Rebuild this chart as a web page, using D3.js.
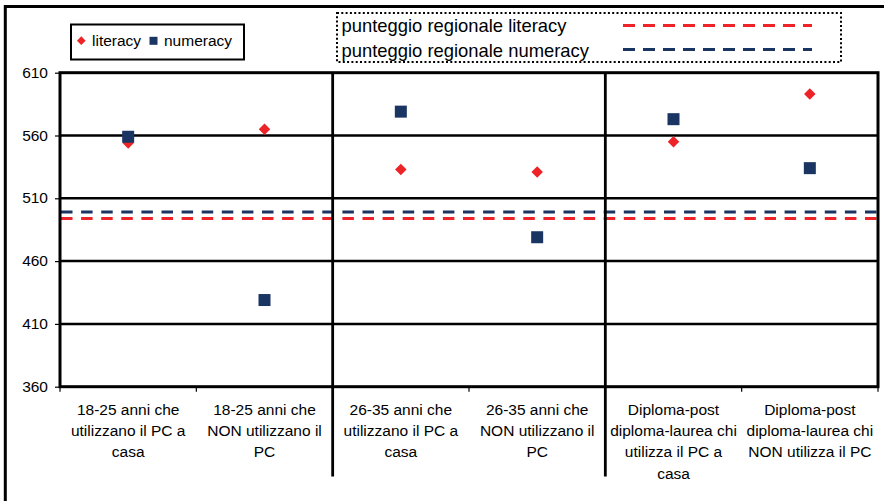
<!DOCTYPE html>
<html>
<head>
<meta charset="utf-8">
<script src="https://cdn.jsdelivr.net/npm/d3@7"></script>
<style>
  html, body { margin: 0; padding: 0; background: #fff; }
  svg { display: block; font-family: Arial, "Liberation Sans", sans-serif; }
</style>
</head>
<body>
<svg id="chart" width="884" height="501"></svg>
<script>
// categories (line breaks as in the original labels)
const categories = [
  '18-25 anni che\nutilizzano il PC a\ncasa',
  '18-25 anni che\nNON utilizzano il\nPC',
  '26-35 anni che\nutilizzano il PC a\ncasa',
  '26-35 anni che\nNON utilizzano il\nPC',
  'Diploma-post\ndiploma-laurea chi\nutilizza il PC a\ncasa',
  'Diploma-post\ndiploma-laurea chi\nNON utilizza il PC'
]
const literacy = [554, 565, 533, 531, 555, 593]
const numeracy = [559, 429, 579, 479, 573, 534]
const regionalLiteracy = 494
const regionalNumeracy = 499
const yTicks = [360, 410, 460, 510, 560, 610]

const red = '#ee2327'
const navy = '#1b3563'

const svg = d3.select('#chart')

const plot = { left: 60, right: 878, top: 72.7, bottom: 386.7 }

const x = d3.scaleBand()
  .domain(d3.range(categories.length))
  .range([plot.left, plot.right])
  .padding(0)

const y = d3.scaleLinear()
  .domain([360, 610])
  .range([plot.bottom, plot.top])

// outer frame
svg.append('rect')
  .attr('x', 5.3).attr('y', 6.5)
  .attr('width', 900).attr('height', 520)
  .attr('fill', 'none')
  .attr('stroke', '#000')
  .attr('stroke-width', 3)

// legend: markers
const leg1 = svg.append('g')
leg1.append('rect')
  .attr('x', 71).attr('y', 24.5)
  .attr('width', 173).attr('height', 35)
  .attr('fill', '#fff')
  .attr('stroke', '#000')
  .attr('stroke-width', 2)
leg1.append('path')
  .attr('d', d3.symbol(d3.symbolDiamond2, 48)())
  .attr('transform', 'translate(81.3,40.7)')
  .attr('fill', red)
leg1.append('text')
  .attr('x', 92).attr('y', 46)
  .attr('font-size', 15.5)
  .text('literacy')
leg1.append('rect')
  .attr('x', 149.5).attr('y', 36.8)
  .attr('width', 8).attr('height', 8)
  .attr('fill', navy)
leg1.append('text')
  .attr('x', 164).attr('y', 46)
  .attr('font-size', 15.5)
  .text('numeracy')

// legend: regional scores
const leg2 = svg.append('g')
leg2.append('rect')
  .attr('x', 337).attr('y', 13)
  .attr('width', 504).attr('height', 49)
  .attr('fill', '#fff')
  .attr('stroke', '#000')
  .attr('stroke-width', 2)
  .attr('stroke-dasharray', '2,2.3')
const leg2Items = [
  { label: 'punteggio regionale literacy', color: red, yText: 31.5, yLine: 25.5 },
  { label: 'punteggio regionale numeracy', color: navy, yText: 56.5, yLine: 49.5 }
]
leg2.selectAll('text')
  .data(leg2Items)
  .join('text')
  .attr('x', 341.5)
  .attr('y', d => d.yText)
  .attr('font-size', 18.4)
  .text(d => d.label)
leg2.selectAll('line')
  .data(leg2Items)
  .join('line')
  .attr('x1', 623).attr('x2', 812)
  .attr('y1', d => d.yLine).attr('y2', d => d.yLine)
  .attr('stroke', d => d.color)
  .attr('stroke-width', 3)
  .attr('stroke-dasharray', '12,8')

// plot background
svg.append('rect')
  .attr('x', plot.left).attr('y', plot.top)
  .attr('width', plot.right - plot.left)
  .attr('height', plot.bottom - plot.top)
  .attr('fill', '#fff')

// horizontal gridlines
svg.append('g')
  .selectAll('line')
  .data(yTicks.slice(1, -1))
  .join('line')
  .attr('x1', plot.left).attr('x2', plot.right)
  .attr('y1', d => y(d)).attr('y2', d => y(d))
  .attr('stroke', '#000')
  .attr('stroke-width', 2.5)

// regional dashed lines
svg.append('g')
  .selectAll('line')
  .data([{ v: regionalNumeracy, c: navy }, { v: regionalLiteracy, c: red }])
  .join('line')
  .attr('x1', plot.left + 1).attr('x2', plot.right)
  .attr('y1', d => y(d.v)).attr('y2', d => y(d.v))
  .attr('stroke', d => d.c)
  .attr('stroke-width', 3)
  .attr('stroke-dasharray', '11.5,8.6')

// group separators (between pairs of categories), extend below axis
const separators = [2, 4].map(i => x(i))
svg.append('g')
  .selectAll('line')
  .data(separators)
  .join('line')
  .attr('x1', d => d).attr('x2', d => d)
  .attr('y1', plot.top).attr('y2', 476.5)
  .attr('stroke', '#000')
  .attr('stroke-width', 2.8)

// small x ticks at category boundaries
const boundaries = d3.range(categories.length + 1).map(i => i < categories.length ? x(i) : plot.right)
svg.append('g')
  .selectAll('line')
  .data(boundaries)
  .join('line')
  .attr('x1', d => d).attr('x2', d => d)
  .attr('y1', plot.bottom).attr('y2', plot.bottom + 5)
  .attr('stroke', '#000')
  .attr('stroke-width', 1.2)

// plot border
svg.append('rect')
  .attr('x', plot.left).attr('y', plot.top)
  .attr('width', plot.right - plot.left)
  .attr('height', plot.bottom - plot.top)
  .attr('fill', 'none')
  .attr('stroke', '#000')
  .attr('stroke-width', 3)

// y axis
const yAxis = svg.append('g')
  .attr('transform', `translate(${plot.left},0)`)
  .call(d3.axisLeft(y).tickValues(yTicks).tickSize(5).tickPadding(7))
yAxis.select('.domain').remove()
yAxis.selectAll('line').attr('stroke', '#000').attr('stroke-width', 1.2)
yAxis.selectAll('text')
  .attr('font-size', 15.5)
  .attr('font-family', 'Arial, "Liberation Sans", sans-serif')
  .attr('fill', '#000')
  .attr('dy', '0.3em')

// category labels
const lineHeight = 21.2
svg.append('g')
  .selectAll('text')
  .data(categories)
  .join('text')
  .attr('text-anchor', 'middle')
  .attr('font-size', 15.5)
  .attr('transform', (d, i) => `translate(${x(i) + x.bandwidth() / 2},415)`)
  .selectAll('tspan')
  .data(d => d.split('\n'))
  .join('tspan')
  .attr('x', 0)
  .attr('y', (d, i) => i * lineHeight)
  .text(d => d)

// series points
const points = svg.append('g')
points.selectAll('path.lit')
  .data(literacy)
  .join('path')
  .classed('lit', true)
  .attr('d', d3.symbol(d3.symbolDiamond2, 84)())
  .attr('transform', (d, i) => `translate(${x(i) + x.bandwidth() / 2},${y(d)})`)
  .attr('fill', red)
points.selectAll('rect.num')
  .data(numeracy)
  .join('rect')
  .classed('num', true)
  .attr('x', (d, i) => x(i) + x.bandwidth() / 2 - 6)
  .attr('y', d => y(d) - 6)
  .attr('width', 12).attr('height', 12)
  .attr('fill', navy)
</script>
</body>
</html>
